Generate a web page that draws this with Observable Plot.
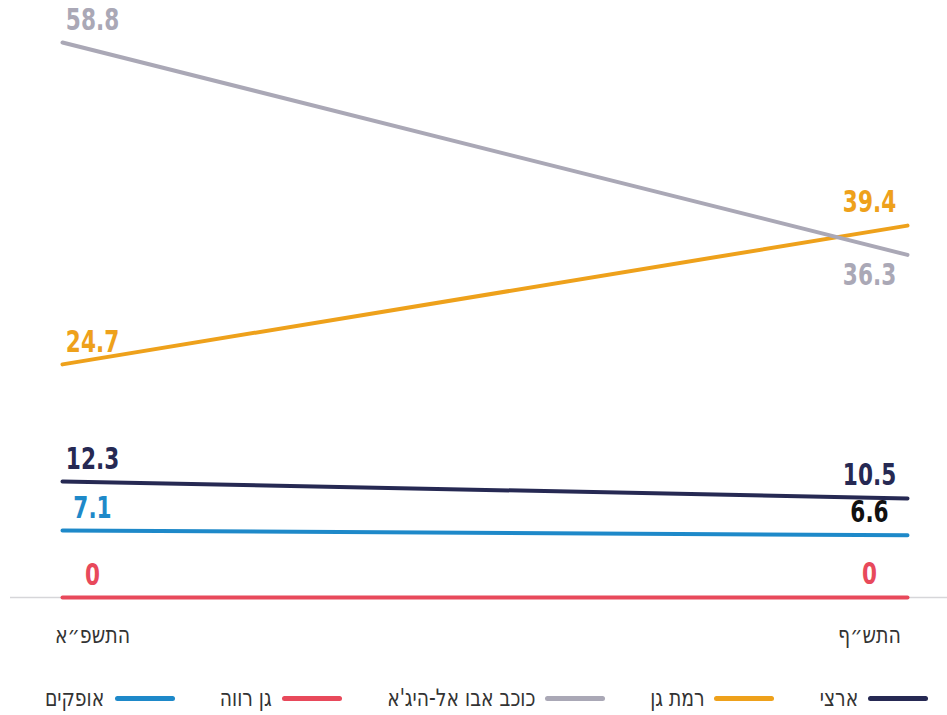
<!DOCTYPE html>
<html><head><meta charset="utf-8">
<script src="https://cdn.jsdelivr.net/npm/d3@7"></script>
<script src="https://cdn.jsdelivr.net/npm/@observablehq/plot@0.6"></script>
<style>
body{margin:0;background:#fff;}
#legend{display:flex;direction:rtl;justify-content:flex-start;gap:45px;padding:0 19px 0 0;margin-top:24px;font-family:"DejaVu Sans Condensed","DejaVu Sans",sans-serif;font-size:24px;color:#333;}
.item{display:flex;align-items:center;gap:10px;}
.sw{width:60px;height:5px;border-radius:3px;flex:none;}
.lab{display:inline-block;transform-origin:right center;white-space:nowrap;}
</style>
</head><body>
<div id="chart"></div>
<div id="legend"></div>
<script>
const years = ["התשפ״א", "התש״ף"];
const series = ["ארצי", "רמת גן", "כוכב אבו אל-היג'א", "גן רווה", "אופקים"];
const colors = ["#262953", "#eea11b", "#aaa8b6", "#e8495b", "#1e89c9"];
const labelColors = ["#262953", "#eea11b", "#aaa8b6", "#e8495b", "#1e89c9"];
const rightLabelColors = ["#262953", "#eea11b", "#aaa8b6", "#e8495b", "#111111"];
const valuesFirst = [12.3, 24.7, 58.8, 0, 7.1];
const valuesSecond = [10.5, 39.4, 36.3, 0, 6.6];
const labelBelowRight = ["כוכב אבו אל-היג'א"];

const data = [];
series.forEach((s, i) => {
  data.push({series: s, year: years[0], value: valuesFirst[i], lc: labelColors[i]});
  data.push({series: s, year: years[1], value: valuesSecond[i], lc: rightLabelColors[i]});
});
const left = data.filter(d => d.year === years[0]);
const rightAbove = data.filter(d => d.year === years[1] && !labelBelowRight.includes(d.series));
const rightBelow = data.filter(d => d.year === years[1] && labelBelowRight.includes(d.series));
const fmt = v => v === 0 ? "0" : v.toFixed(1);
const font = `"DejaVu Sans Condensed","DejaVu Sans",sans-serif`;

const chart = Plot.plot({
  width: 947, height: 660,
  marginLeft: 10, marginRight: 0, marginTop: 0, marginBottom: 0,
  style: {fontFamily: font, background: "#fff"},
  x: {type: "point", domain: years, range: [62, 907], padding: 0, axis: null},
  y: {domain: [0, 58.8], range: [597, 42], axis: null},
  color: {domain: series, range: colors},
  marks: [
    Plot.ruleY([0], {stroke: "#d6d6d9", strokeWidth: 1.5}),
    Plot.line(data, {x: "year", y: "value", z: "series", stroke: "series", strokeWidth: 4, strokeLinecap: "round"}),
    Plot.text(left, {x: "year", y: "value", text: d => fmt(d.value), fill: "lc", dx: 30, dy: -22, fontSize: 30, fontWeight: "bold", className: "val"}),
    Plot.text(rightAbove, {x: "year", y: "value", text: d => fmt(d.value), fill: "lc", dx: -38, dy: -23, fontSize: 30, fontWeight: "bold", className: "val"}),
    Plot.text(rightBelow, {x: "year", y: "value", text: d => fmt(d.value), fill: "lc", dx: -38, dy: 21, fontSize: 30, fontWeight: "bold", className: "val"}),
    Plot.text([years[0]], {x: d => d, y: () => 0, text: d => d, dx: 30, dy: 38, fontSize: 24, fill: "#333", className: "ax"}),
    Plot.text([years[1]], {x: d => d, y: () => 0, text: d => d, dx: -38, dy: 38, fontSize: 24, fill: "#333", className: "ax"})
  ]
});
document.getElementById("chart").appendChild(chart);

function squeeze(sel, f) {
  chart.querySelectorAll(sel + " text").forEach(t => {
    const w = t.getComputedTextLength();
    t.setAttribute("textLength", (w * f).toFixed(1));
    t.setAttribute("lengthAdjust", "spacingAndGlyphs");
  });
}
squeeze(".val", 0.8);
squeeze(".ax", 0.88);

const legend = document.getElementById("legend");
series.forEach((s, i) => {
  const it = document.createElement("div");
  it.className = "item";
  const sw = document.createElement("div");
  sw.className = "sw"; sw.style.background = colors[i];
  const t = document.createElement("span");
  t.className = "lab";
  t.textContent = s;
  it.appendChild(sw); it.appendChild(t);
  legend.appendChild(it);
});
const sx = 0.87;
legend.querySelectorAll(".lab").forEach(t => {
  const w = t.getBoundingClientRect().width;
  t.style.transform = `scaleX(${sx})`;
  t.style.marginLeft = `${-(1 - sx) * w}px`;
});
</script>
</body></html>
